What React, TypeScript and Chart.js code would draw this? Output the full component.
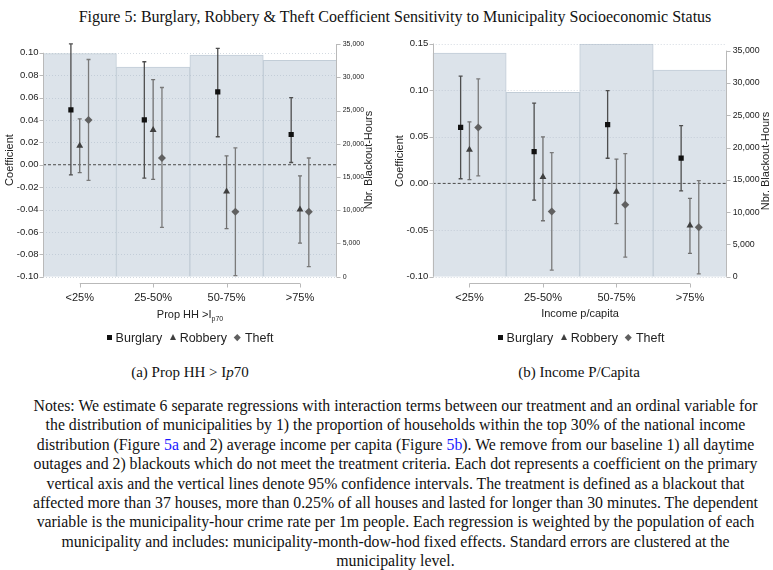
import React, { useEffect, useRef } from 'react';
import { Chart, registerables } from 'chart.js';
Chart.register(...registerables);

// ---------- data ----------
const categories = ['<25%', '25-50%', '50-75%', '>75%'];
const seriesNames = ['Burglary', 'Robbery', 'Theft'];

// Panel (a): Prop HH > Ip70
const hoursA = [33550, 31550, 33350, 32550];
const burglaryA = [0.049, 0.040, 0.065, 0.027];
const burglaryLoA = [-0.009, -0.012, 0.025, 0.002];
const burglaryHiA = [0.108, 0.092, 0.104, 0.060];
const robberyA = [0.017, 0.031, -0.024, -0.040];
const robberyLoA = [-0.007, -0.013, -0.057, -0.070];
const robberyHiA = [0.041, 0.076, 0.008, -0.010];
const theftA = [0.040, 0.006, -0.042, -0.042];
const theftLoA = [-0.014, -0.056, -0.099, -0.091];
const theftHiA = [0.094, 0.069, 0.015, 0.006];
const yTicksA = [-0.1, -0.08, -0.06, -0.04, -0.02, 0, 0.02, 0.04, 0.06, 0.08, 0.1];

// Panel (b): Income per capita
const hoursB = [34600, 28550, 36000, 32000];
const burglaryB = [0.060, 0.034, 0.063, 0.027];
const burglaryLoB = [0.005, -0.018, 0.027, -0.008];
const burglaryHiB = [0.115, 0.086, 0.0995, 0.062];
const robberyB = [0.036, 0.007, -0.009, -0.045];
const robberyLoB = [0.004, -0.040, -0.043, -0.075];
const robberyHiB = [0.066, 0.050, 0.026, -0.016];
const theftB = [0.060, -0.030, -0.023, -0.047];
const theftLoB = [0.008, -0.093, -0.079, -0.097];
const theftHiB = [0.112, 0.033, 0.032, 0.003];
const yTicksB = [-0.1, -0.05, 0, 0.05, 0.1, 0.15];

const hoursTicks = [0, 5000, 10000, 15000, 20000, 25000, 30000, 35000];

// ---------- style ----------
const SANS = '"Liberation Sans", Arial, Helvetica, sans-serif';
const SERIF = '"Liberation Serif", "Times New Roman", serif';
const markerStyles = ['rect', 'triangle', 'rectRot'];
const markerRadius = [3.7, 4, 4];
const markerColors = ['#111111', '#3f3f3f', '#606060'];
const errColors = ['#4e4e4e', '#707070', '#7a7a7a'];
const offsets = [-0.12, 0, 0.12];
const AXIS = '#b9b9b9';

const decorPlugin = {
  id: 'decor',
  beforeDatasetDraw(chart: any, args: any) {
    const ds: any = chart.data.datasets[args.index];
    if (!ds.errLo) return;
    const ctx = chart.ctx;
    const xs = chart.scales.x;
    const ys = chart.scales.y;
    ctx.save();
    ctx.strokeStyle = ds.errColor;
    ctx.lineWidth = 1.3;
    ds.data.forEach((pt: any, i: number) => {
      const px = xs.getPixelForValue(pt.x);
      const top = ys.getPixelForValue(ds.errHi[i]);
      const bot = ys.getPixelForValue(ds.errLo[i]);
      ctx.beginPath();
      ctx.moveTo(px, top);
      ctx.lineTo(px, bot);
      ctx.moveTo(px - 2, top);
      ctx.lineTo(px + 2, top);
      ctx.moveTo(px - 2, bot);
      ctx.lineTo(px + 2, bot);
      ctx.stroke();
    });
    ctx.restore();
  },
  afterDatasetDraw(chart: any, args: any) {
    const ds: any = chart.data.datasets[args.index];
    if (ds.type !== 'bar') return;
    const ctx = chart.ctx;
    const ys = chart.scales.y;
    const a = chart.chartArea;
    ctx.save();
    ctx.strokeStyle = 'rgba(175,188,200,0.55)';
    ctx.lineWidth = 1;
    ctx.setLineDash([1, 2]);
    ys.ticks.forEach((t: any) => {
      if (t.value === 0) return;
      const py = Math.round(ys.getPixelForValue(t.value)) + 0.5;
      ctx.beginPath();
      ctx.moveTo(a.left, py);
      ctx.lineTo(a.right, py);
      ctx.stroke();
    });
    ctx.restore();
  },
  afterDraw(chart: any, _args: any, opts: any) {
    const ctx = chart.ctx;
    const a = chart.chartArea;
    const xs = chart.scales.x;
    const ys = chart.scales.y;
    const y2 = chart.scales.y2;
    ctx.save();
    ctx.strokeStyle = AXIS;
    ctx.lineWidth = 1;
    // left axis
    const lx = Math.round(a.left) + 0.5;
    const lt = ys.getPixelForValue(ys.ticks[ys.ticks.length - 1].value);
    const lb = ys.getPixelForValue(ys.ticks[0].value);
    ctx.beginPath();
    ctx.moveTo(lx, lt);
    ctx.lineTo(lx, lb);
    ys.ticks.forEach((t: any) => {
      const py = Math.round(ys.getPixelForValue(t.value)) + 0.5;
      ctx.moveTo(lx - 4, py);
      ctx.lineTo(lx, py);
    });
    // right axis
    const rx = Math.round(a.right) - 0.5;
    const rt = y2.getPixelForValue(y2.ticks[y2.ticks.length - 1].value);
    const rb = y2.getPixelForValue(y2.ticks[0].value);
    ctx.moveTo(rx, rt);
    ctx.lineTo(rx, rb);
    y2.ticks.forEach((t: any) => {
      const py = Math.round(y2.getPixelForValue(t.value)) + 0.5;
      ctx.moveTo(rx, py);
      ctx.lineTo(rx + 4, py);
    });
    // bottom axis (offset below plot)
    const by = Math.round(a.bottom) + 6.5;
    const bl = xs.getPixelForValue(xs.ticks[0].value);
    const br = xs.getPixelForValue(xs.ticks[xs.ticks.length - 1].value);
    ctx.moveTo(bl, by);
    ctx.lineTo(br, by);
    xs.ticks.forEach((t: any) => {
      const px = Math.round(xs.getPixelForValue(t.value)) + 0.5;
      ctx.moveTo(px, by);
      ctx.lineTo(px, by + 4);
    });
    ctx.stroke();
    // axis titles
    ctx.fillStyle = '#222';
    ctx.font = `11px ${SANS}`;
    ctx.textAlign = 'center';
    ctx.textBaseline = 'middle';
    ctx.save();
    ctx.translate(opts.leftTitleX, opts.titleY);
    ctx.rotate(-Math.PI / 2);
    ctx.fillText(opts.leftTitle, 0, 0);
    ctx.restore();
    ctx.save();
    ctx.translate(opts.rightTitleX, opts.titleY);
    ctx.rotate(-Math.PI / 2);
    ctx.fillText(opts.rightTitle, 0, 0);
    ctx.restore();
    ctx.restore();
  },
};

type Panel = {
  hours: number[];
  coef: number[][];
  lo: number[][];
  hi: number[][];
  yTicks: number[];
  yMin: number;
  yMax: number;
  y2Max: number;
  y2Font: number;
  width: number;
  height: number;
  leftW: number;
  rightW: number;
  topPad: number;
  xAxisH: number;
  leftTitleX: number;
  rightTitleX: number;
  titleY: number;
};

function ChartPanel({ p }: { p: Panel }) {
  const ref = useRef<HTMLCanvasElement | null>(null);
  useEffect(() => {
    if (!ref.current) return;
    const datasets: any[] = [
      {
        type: 'bar',
        label: 'Nbr. Blackout-Hours',
        data: p.hours.map((v, i) => ({ x: i, y: v })),
        yAxisID: 'y2',
        backgroundColor: '#dce3ea',
        borderColor: '#c2cdd7',
        borderWidth: 1,
        barPercentage: 1,
        categoryPercentage: 1,
        order: 10,
      },
      {
        type: 'line',
        label: 'zero',
        data: [
          { x: -0.5, y: 0 },
          { x: 3.5, y: 0 },
        ],
        yAxisID: 'y',
        borderColor: '#4a4a4a',
        borderWidth: 1,
        borderDash: [3, 2],
        pointRadius: 0,
        order: 5,
      },
      ...seriesNames.map((name, s) => ({
        type: 'scatter',
        label: name,
        data: p.coef[s].map((v, i) => ({ x: i + offsets[s], y: v })),
        yAxisID: 'y',
        pointStyle: markerStyles[s],
        pointRadius: markerRadius[s],
        backgroundColor: markerColors[s],
        borderColor: markerColors[s],
        borderWidth: 0,
        errLo: p.lo[s],
        errHi: p.hi[s],
        errColor: errColors[s],
        order: 3 - s,
      })),
    ];
    const chart = new Chart(ref.current, {
      type: 'bar',
      data: { datasets },
      plugins: [decorPlugin as any],
      options: {
        animation: false,
        responsive: false,
        devicePixelRatio: 1,
        events: [],
        layout: { padding: { top: p.topPad, left: 0, right: 0, bottom: 0 }, autoPadding: false },
        plugins: {
          legend: { display: false },
          tooltip: { enabled: false },
          title: { display: false },
          decor: {
            leftTitle: 'Coefficient',
            rightTitle: 'Nbr. Blackout-Hours',
            leftTitleX: p.leftTitleX,
            rightTitleX: p.rightTitleX,
            titleY: p.titleY,
          },
        } as any,
        scales: {
          x: {
            type: 'linear',
            offset: false,
            min: -0.5,
            max: 3.5,
            afterBuildTicks: (s: any) => {
              s.ticks = categories.map((_, i) => ({ value: i }));
            },
            ticks: {
              callback: (v: any) => categories[v] ?? '',
              font: { family: SANS, size: 11 },
              color: '#222',
              padding: 14.5,
              maxRotation: 0,
              autoSkip: false,
            },
            grid: { display: false, drawTicks: false, offset: false },
            border: { display: false },
            afterFit: (s: any) => {
              s.height = p.xAxisH;
            },
          },
          y: {
            type: 'linear',
            position: 'left',
            min: p.yMin,
            max: p.yMax,
            afterBuildTicks: (s: any) => {
              s.ticks = p.yTicks.map((v) => ({ value: v }));
            },
            ticks: {
              callback: (v: any) => Number(v).toFixed(2),
              font: { family: SANS, size: 9.5 },
              color: '#222',
              padding: 4.5,
            },
            grid: { display: false, drawTicks: false },
            border: { display: false },
            afterFit: (s: any) => {
              s.width = p.leftW;
            },
          },
          y2: {
            type: 'linear',
            position: 'right',
            min: 0,
            max: p.y2Max,
            afterBuildTicks: (s: any) => {
              s.ticks = hoursTicks.map((v) => ({ value: v }));
            },
            ticks: {
              callback: (v: any) => String(v).replace(/\B(?=(\d{3})+(?!\d))/g, ','),
              font: { family: SANS, size: p.y2Font },
              color: '#222',
              padding: 6,
            },
            grid: { display: false, drawTicks: false },
            border: { display: false },
            afterFit: (s: any) => {
              s.width = p.rightW;
            },
          },
        },
      } as any,
    });
    return () => chart.destroy();
  }, [p]);
  return <canvas ref={ref} width={p.width} height={p.height} style={{ width: p.width, height: p.height, display: 'block' }} />;
}

const panelA: Panel = {
  hours: hoursA,
  coef: [burglaryA, robberyA, theftA],
  lo: [burglaryLoA, robberyLoA, theftLoA],
  hi: [burglaryHiA, robberyHiA, theftHiA],
  yTicks: yTicksA,
  yMin: -0.1,
  yMax: 0.109,
  y2Max: 35200,
  y2Font: 7,
  width: 385,
  height: 280,
  leftW: 43,
  rightW: 48.3,
  topPad: 12.7,
  xAxisH: 33.3,
  leftTitleX: 10,
  rightTitleX: 369,
  titleY: 130,
};

const panelB: Panel = {
  hours: hoursB,
  coef: [burglaryB, robberyB, theftB],
  lo: [burglaryLoB, robberyLoB, theftLoB],
  hi: [burglaryHiB, robberyHiB, theftHiB],
  yTicks: yTicksB,
  yMin: -0.1,
  yMax: 0.15,
  y2Max: 36100,
  y2Font: 8.8,
  width: 388,
  height: 280,
  leftW: 47.7,
  rightW: 46.3,
  topPad: 13.5,
  xAxisH: 33.3,
  leftTitleX: 15,
  rightTitleX: 381,
  titleY: 131,
};

function Legend({ cx, top }: { cx: number; top: number }) {
  const items = [
    <span key="m0" style={{ display: 'inline-block', width: 5, height: 5, background: markerColors[0], margin: '0 4px 2px 0', verticalAlign: 'middle' }} />,
    <span key="m1" style={{ display: 'inline-block', width: 0, height: 0, borderLeft: '3px solid transparent', borderRight: '3px solid transparent', borderBottom: `6px solid ${markerColors[1]}`, margin: '0 4px 3px 4px', verticalAlign: 'middle' }} />,
    <span key="m2" style={{ display: 'inline-block', width: 4.5, height: 4.5, background: markerColors[2], transform: 'rotate(45deg)', margin: '0 5px 3px 5px', verticalAlign: 'middle' }} />,
  ];
  return (
    <div style={{ position: 'absolute', left: cx - 150, width: 300, top, textAlign: 'center', font: `12.5px ${SANS}`, color: '#222', whiteSpace: 'nowrap', lineHeight: '16px' }}>
      {seriesNames.map((n, i) => (
        <React.Fragment key={n}>
          {items[i]}
          {n}
          {i < seriesNames.length - 1 ? ' ' : ''}
        </React.Fragment>
      ))}
    </div>
  );
}

const blue = { color: '#1a1aff' };
const notes: React.ReactNode[] = [
  'Notes: We estimate 6 separate regressions with interaction terms between our treatment and an ordinal variable for',
  'the distribution of municipalities by 1) the proportion of households within the top 30% of the national income',
  <>distribution (Figure <span style={blue}>5a</span> and 2) average income per capita (Figure <span style={blue}>5b</span>). We remove from our baseline 1) all daytime</>,
  'outages and 2) blackouts which do not meet the treatment criteria. Each dot represents a coefficient on the primary',
  'vertical axis and the vertical lines denote 95% confidence intervals. The treatment is defined as a blackout that',
  'affected more than 37 houses, more than 0.25% of all houses and lasted for longer than 30 minutes. The dependent',
  'variable is the municipality-hour crime rate per 1m people. Each regression is weighted by the population of each',
  'municipality and includes: municipality-month-dow-hod fixed effects. Standard errors are clustered at the',
  'municipality level.',
];

export default function App() {
  return (
    <div style={{ position: 'absolute', left: 0, top: 0, width: 773, height: 570, background: '#fff', overflow: 'hidden' }}>
      <div style={{ position: 'absolute', left: 0, width: 790, top: 7, textAlign: 'center', font: `16px ${SERIF}`, lineHeight: '20px', color: '#111', whiteSpace: 'nowrap' }}>
        Figure 5: Burglary, Robbery &amp; Theft Coefficient Sensitivity to Municipality Socioeconomic Status
      </div>
      <div style={{ position: 'absolute', left: 0, top: 30 }}>
        <ChartPanel p={panelA} />
      </div>
      <div style={{ position: 'absolute', left: 385, top: 30 }}>
        <ChartPanel p={panelB} />
      </div>
      <div style={{ position: 'absolute', left: 90, width: 200, top: 307, textAlign: 'center', font: `11px ${SANS}`, color: '#222', lineHeight: '14px' }}>
        Prop HH &gt;I<span style={{ fontSize: 7, verticalAlign: -3 }}>p70</span>
      </div>
      <div style={{ position: 'absolute', left: 480, width: 200, top: 306, textAlign: 'center', font: `11px ${SANS}`, color: '#222', lineHeight: '14px' }}>
        Income p/capita
      </div>
      <Legend cx={190} top={330} />
      <Legend cx={581} top={330} />
      <div style={{ position: 'absolute', left: 40, width: 300, top: 363, textAlign: 'center', font: `15px ${SERIF}`, color: '#111', lineHeight: '19px' }}>
        (a) Prop HH &gt; I<i>p</i>70
      </div>
      <div style={{ position: 'absolute', left: 429, width: 300, top: 363, textAlign: 'center', font: `15px ${SERIF}`, color: '#111', lineHeight: '19px' }}>
        (b) Income P/Capita
      </div>
      <div style={{ position: 'absolute', left: 0, width: 791, top: 396, textAlign: 'center', font: `15.8px ${SERIF}`, color: '#111', lineHeight: '19.4px', whiteSpace: 'nowrap' }}>
        {notes.map((n, i) => (
          <div key={i}>{n}</div>
        ))}
      </div>
    </div>
  );
}
